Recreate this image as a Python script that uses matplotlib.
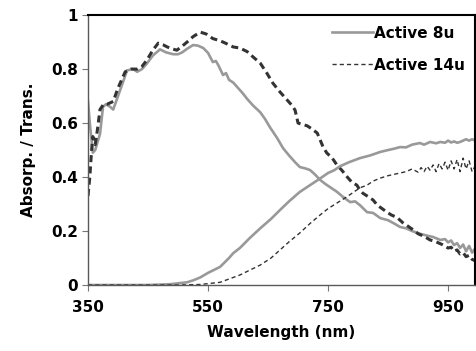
import matplotlib
matplotlib.use("Agg")
import matplotlib.pyplot as plt

plt.rcParams["font.family"] = ["DejaVu Sans"]
plt.rcParams["font.weight"] = "bold"

# ── Data ──────────────────────────────────────────────────────────────────────
abs_8u_wl = [350, 353, 358, 362, 366, 370, 375, 380, 387, 392,
             400, 408, 415, 425, 432, 440, 448, 458, 470, 480,
             492, 500, 507, 515, 525, 533, 542, 550, 558, 563,
             567, 575, 580, 585, 592, 600, 608, 615, 625, 637,
             645, 653, 665, 675, 685, 695, 703, 712, 720, 728,
             737, 745, 753, 765, 775, 787, 795, 803, 815, 825,
             837, 850, 860, 870, 880, 890, 903, 915, 925, 937,
             945, 950, 955, 960, 965, 970, 975, 980, 985, 990, 995]
abs_8u = [.68, .60, .49, .50, .53, .56, .66, .67, .66, .65,
          .70, .75, .795, .80, .79, .80, .82, .85, .873, .862,
          .855, .855, .862, .875, .889, .887, .878, .86, .826, .83,
          .815, .778, .785, .76, .75, .73, .71, .69, .665, .64,
          .615, .585, .545, .507, .48, .455, .437, .432, .426, .41,
          .389, .375, .363, .345, .326, .307, .31, .296, .27, .267,
          .248, .24, .228, .215, .21, .2, .19, .183, .178, .167,
          .17, .158, .165, .148, .155, .137, .15, .125, .145, .12, .135]

abs_14u_wl = [350, 353, 356, 358, 362, 366, 370, 376, 382, 392,
              400, 412, 422, 432, 440, 448, 458, 467, 475, 482,
              490, 498, 507, 515, 525, 537, 547, 558, 570, 580,
              592, 603, 615, 625, 637, 648, 658, 670, 682, 690,
              695, 700, 707, 715, 722, 732, 742, 748, 757, 765,
              773, 782, 790, 798, 803, 808, 815, 825, 832, 845,
              855, 865, 875, 885, 892, 900, 910, 920, 930, 940,
              950, 955, 960, 965, 970, 975, 980, 985, 990, 995]
abs_14u = [.33, .40, .50, .55, .52, .58, .65, .67, .67, .68,
           .73, .79, .80, .80, .81, .833, .87, .896, .89, .882,
           .875, .87, .885, .90, .92, .937, .93, .913, .905, .895,
           .882, .878, .865, .845, .822, .785, .748, .715, .685, .665,
           .648, .60, .595, .59, .58, .563, .51, .489, .47, .444,
           .425, .40, .38, .37, .352, .34, .33, .315, .296, .275,
           .26, .25, .23, .215, .204, .19, .18, .167, .16, .15,
           .137, .14, .125, .13, .115, .12, .105, .11, .095, .09]

tr_8u_wl = [350, 450, 487, 503, 515, 525, 537, 550, 570, 585,
            592, 603, 620, 637, 655, 670, 685, 703, 720, 737,
            750, 760, 770, 785, 803, 820, 837, 850, 860, 870,
            880, 890, 903, 910, 920, 930, 937, 945, 950, 955,
            960, 965, 970, 975, 980, 985, 990, 995]
tr_8u = [0, 0, .003, .007, .01, .017, .028, .045, .067, .10,
         .118, .137, .175, .21, .245, .278, .31, .345, .37, .395,
         .415, .425, .44, .455, .47, .48, .493, .50, .505, .511,
         .51, .52, .526, .52, .53, .525, .53, .527, .535, .528,
         .532, .527, .53, .535, .54, .535, .54, .535]

tr_14u_wl = [350, 500, 537, 570, 603, 637, 655, 670, 685, 703,
             720, 737, 750, 765, 780, 790, 803, 815, 825, 837,
             850, 860, 870, 880, 890, 900, 905, 910, 915, 920,
             925, 930, 935, 940, 945, 950, 955, 960, 965, 970,
             975, 980, 985, 990, 995]
tr_14u = [0, 0, .002, .01, .037, .074, .10, .13, .16, .193,
          .228, .26, .283, .304, .325, .34, .36, .37, .385, .396,
          .405, .41, .415, .42, .43, .418, .435, .42, .44, .425,
          .445, .42, .45, .43, .455, .425, .46, .43, .465, .42,
          .47, .43, .46, .42, .44]

x_ticks = [350, 550, 750, 950]
y_ticks = [0, 0.2, 0.4, 0.6, 0.8, 1]
y_labels = ["0", "0.2", "0.4", "0.6", "0.8", "1"]

gray = "#999999"
dark = "#333333"

fig = plt.figure(figsize=(4.77, 3.51), dpi=100)
ax = fig.add_axes([0.1845, 0.188, 0.8115, 0.769])

ax.plot(abs_8u_wl, abs_8u, color=gray, linewidth=1.9)
ax.plot(abs_14u_wl, abs_14u, color=dark, linewidth=2.2, dashes=(2.3, 1.4))
ax.plot(tr_8u_wl, tr_8u, color=gray, linewidth=1.9, label="Active 8u")
ax.plot(tr_14u_wl, tr_14u, color=dark, linewidth=1.0, dashes=(3.0, 2.2),
        label="Active 14u")

ax.set_xlim(350, 995)
ax.set_ylim(0, 1)
ax.set_xticks(x_ticks)
ax.set_yticks(y_ticks)
ax.set_yticklabels(y_labels)
ax.tick_params(direction="out", length=4, width=0.8, color="#777777",
               labelsize=11)
ax.tick_params(axis="x", pad=7)
ax.tick_params(axis="y", pad=3)
for lab in ax.get_xticklabels() + ax.get_yticklabels():
    lab.set_fontweight("bold")

for s in ["top", "right"]:
    ax.spines[s].set_color("black")
    ax.spines[s].set_linewidth(1.5)
for s in ["left", "bottom"]:
    ax.spines[s].set_color("#595959")
    ax.spines[s].set_linewidth(1.0)

ax.set_xlabel("Wavelength (nm)", fontsize=11, fontweight="bold", labelpad=7)
ax.set_ylabel("Absorp. / Trans.", fontsize=11, fontweight="bold", labelpad=11)

ax.legend(loc="upper right", frameon=False, handlelength=2.7,
          handletextpad=0.05, labelspacing=1.1, borderaxespad=0.3,
          prop={"weight": "bold", "size": 11})

fig.savefig("out.png", dpi=100)
